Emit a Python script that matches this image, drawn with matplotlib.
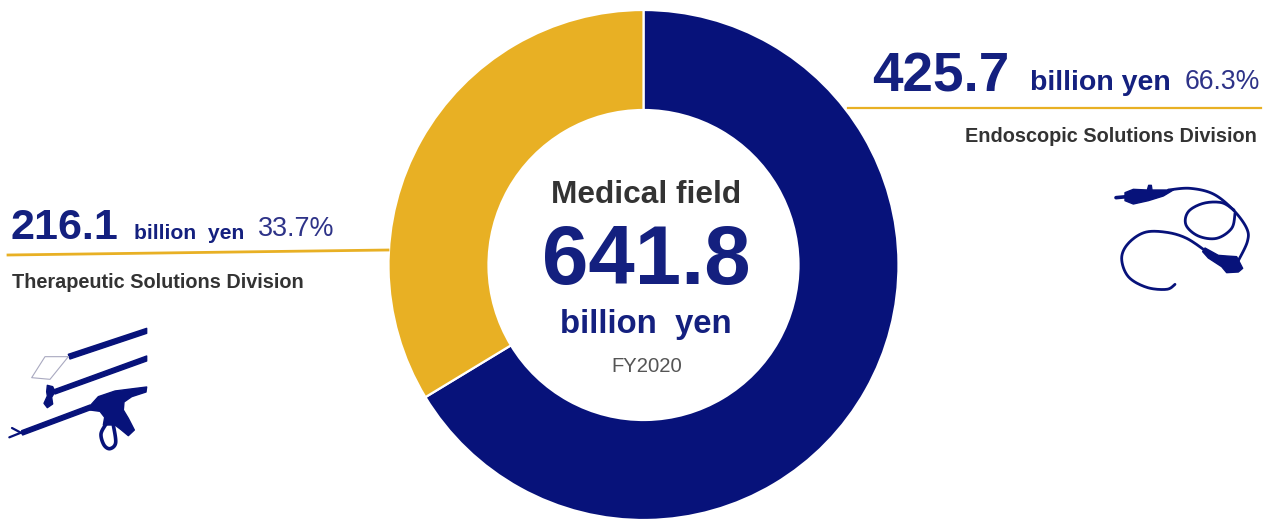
import matplotlib
matplotlib.use("Agg")
import matplotlib.pyplot as plt
import numpy as np
from matplotlib.patches import Polygon

plt.rcParams['font.family'] = ['Liberation Sans', 'DejaVu Sans']

W, H = 1268, 521
NAVY = '#07127a'
GOLD = '#e8b024'
TEXT_NAVY = '#14207f'
PCT_NAVY = '#2e3388'
DARK = '#333333'

# sales by division, billion yen
divisions = ['Endoscopic Solutions Division', 'Therapeutic Solutions Division']
sales = [425.7, 216.1]
shares = [66.3, 33.7]
total = 641.8
ring_colors = [NAVY, GOLD]


def flip(y):
    # page coordinates run top down, the axes bottom up
    return H - y


def label(x, y, s, size, color, weight='normal', ha='left'):
    ax.text(x, flip(y), s, fontsize=size, color=color, fontweight=weight,
            ha=ha, va='baseline')


def smooth(pts, n=16):
    # catmull-rom through the given points
    p = np.array(pts, dtype=float)
    p = np.vstack([p[0], p, p[-1]])
    out = []
    for i in range(1, len(p) - 2):
        for t in np.linspace(0, 1, n, endpoint=False):
            a = 2 * p[i] + (p[i + 1] - p[i - 1]) * t
            b = (2 * p[i - 1] - 5 * p[i] + 4 * p[i + 1] - p[i + 2]) * t ** 2
            c = (3 * p[i] - p[i - 1] - 3 * p[i + 1] + p[i + 2]) * t ** 3
            out.append(0.5 * (a + b + c))
    out.append(p[-2])
    return np.array(out)


def icon_xy(pts, ox, oy):
    # icon outlines are sketched on a 3x grid
    p = np.array(pts, dtype=float)
    return np.column_stack([ox + p[:, 0] / 3, flip(oy + p[:, 1] / 3)])


def icon_line(pts, ox, oy, lw=2.0, color=NAVY, curved=True):
    xy = icon_xy(smooth(pts) if curved else pts, ox, oy)
    ax.plot(xy[:, 0], xy[:, 1], color=color, lw=lw, solid_capstyle='round',
            solid_joinstyle='round', zorder=4)


def icon_fill(pts, ox, oy, color=NAVY, z=4):
    xy = icon_xy(pts, ox, oy)
    ax.add_patch(Polygon(xy, closed=True, fc=color, ec=color, lw=1.0,
                         joinstyle='round', zorder=z))


fig = plt.figure(figsize=(W / 100, H / 100), dpi=100)
ax = fig.add_axes([0, 0, 1, 1])

ax.pie(sales, colors=ring_colors, startangle=90, counterclock=False,
       center=(643.5, flip(265)), radius=255,
       wedgeprops=dict(width=100, edgecolor='white', linewidth=1.6))
ax.set_xlim(0, W)
ax.set_ylim(0, H)
ax.set_aspect('auto')
ax.axis('off')

# centre of the ring
label(646, 203, 'Medical field', 22.8, DARK, 'bold', ha='center')
label(646, 284, f'{total}', 60, TEXT_NAVY, 'bold', ha='center')
label(646, 333, 'billion  yen', 23.7, TEXT_NAVY, 'bold', ha='center')
label(646.5, 372, 'FY2020', 14.6, '#555555', ha='center')

# endoscopic callout
label(872, 92, f'{sales[0]}', 39.5, TEXT_NAVY, 'bold')
label(1030, 90, 'billion yen', 20.5, TEXT_NAVY, 'bold')
label(1185, 89, f'{shares[0]}%', 19.2, PCT_NAVY)
ax.plot([848, 1261], [flip(107.7), flip(107.7)], color=GOLD, lw=1.6)
label(965, 142, divisions[0], 14.3, DARK, 'bold')

# therapeutic callout
label(10, 239, f'{sales[1]}', 31, TEXT_NAVY, 'bold')
label(134, 239, 'billion  yen', 15.2, TEXT_NAVY, 'bold')
label(258, 236, f'{shares[1]}%', 19.4, PCT_NAVY)
ax.plot([8, 388], [flip(255), flip(250)], color=GOLD, lw=2.0)
label(12, 288, divisions[1], 14.3, DARK, 'bold')

# endoscope icon
ox, oy = 1090, 170
icon_line([(78, 83), (110, 80)], ox, oy, lw=2.6, curved=False)
icon_fill([(105, 68), (130, 58), (172, 60), (176, 46), (184, 46), (186, 60), (250, 60),
           (220, 78), (175, 92), (130, 102), (105, 92)], ox, oy)
icon_line([(235, 60), (300, 55), (370, 72), (430, 120), (470, 175), (472, 215), (445, 272)], ox, oy)
icon_line([(432, 120), (395, 98), (340, 100), (295, 125), (288, 165), (325, 198),
           (380, 205), (425, 175), (435, 130)], ox, oy)
icon_fill([(345, 234), (385, 256), (410, 258), (440, 260), (458, 295), (445, 306),
           (410, 308), (395, 290), (355, 264), (338, 245)], ox, oy)
icon_line([(350, 245), (290, 205), (230, 187), (165, 187), (115, 220), (95, 265),
           (115, 320), (170, 352), (230, 358), (255, 343)], ox, oy)

# forceps and clip applier icon
ox, oy = 0, 310
icon_fill([(205, 133), (440, 55), (440, 70), (210, 147)], ox, oy)
icon_line([(205, 140), (135, 140), (95, 203), (150, 208), (205, 140)], ox, oy,
          lw=0.8, color='#a9a9c0', curved=False)
icon_fill([(160, 240), (440, 138), (440, 153), (165, 252)], ox, oy)
icon_fill([(142, 226), (158, 230), (165, 245), (155, 262), (158, 282), (142, 293),
           (132, 280), (142, 258), (140, 245)], ox, oy)
icon_fill([(65, 362), (270, 285), (275, 298), (68, 375)], ox, oy)
icon_line([(28, 382), (68, 366)], ox, oy, lw=1.6, curved=False)
icon_line([(36, 354), (66, 370)], ox, oy, lw=1.6, curved=False)
icon_fill([(268, 290), (295, 260), (345, 243), (400, 236), (440, 231), (438, 246),
           (395, 260), (372, 276), (370, 300), (385, 325), (403, 360), (385, 377),
           (362, 358), (345, 345), (310, 345), (314, 322), (300, 304), (270, 300)], ox, oy)
icon_line([(318, 342), (303, 372), (312, 405), (330, 416), (347, 398), (340, 345)], ox, oy, lw=2.6)

fig.savefig('out.png', dpi=100, facecolor='white')
